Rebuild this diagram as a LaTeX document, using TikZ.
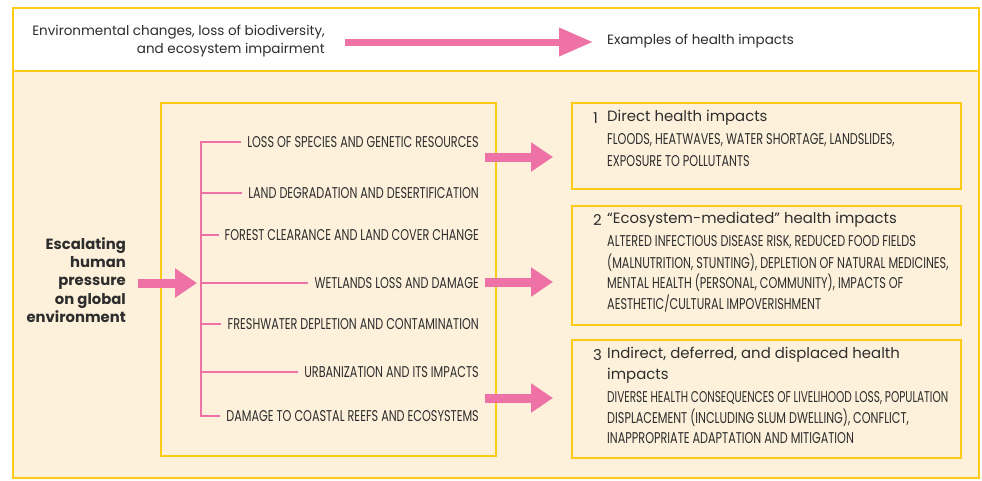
\documentclass[tikz,border=0pt]{standalone}
\usepackage{fontspec}
\usepackage{graphicx}
\setmainfont{Poppins}
\newfontfamily\condf[FakeStretch=0.72]{Poppins}
\usetikzlibrary{arrows.meta}
\definecolor{gold}{RGB}{254,203,20}
\definecolor{cream}{RGB}{253,241,219}
\definecolor{pinkc}{RGB}{238,114,166}
\definecolor{txt}{RGB}{45,45,45}
\tikzset{
  frame/.style={draw=gold, line width=2.4pt, rectangle, inner sep=0pt, anchor=north west},
  ibox/.style={draw=gold, line width=2pt, rectangle, inner sep=0pt, anchor=north west},
  caps/.style={font=\condf\fontsize{15.6}{18}\selectfont, text=txt, inner sep=0pt},
  head/.style={font=\fontsize{14.9}{17}\selectfont, text=txt, inner sep=0pt, anchor=west},
  uline/.style={caps, anchor=west},
  item/.style={caps, anchor=east},
  branch/.style={draw=pinkc, line width=2.2pt},
  fat/.style={draw=pinkc, line width=9pt, -{Triangle[length=22pt,width=28pt]}},
  thinfat/.style={draw=pinkc, line width=7pt, -{Triangle[length=34pt,width=27pt]}},
}
\begin{document}
\begin{tikzpicture}[x=1pt,y=-1pt]
\useasboundingbox (0,0) rectangle (982,480);
% frames
\node[frame, fill=cream, minimum width=966pt, minimum height=407pt] (low) at (12,70) {};
\node[frame, fill=white, minimum width=966pt, minimum height=63pt] (top) at (12,7) {};
% top row
\node[font=\fontsize{13.5}{18}\selectfont, text=txt, align=right, anchor=east, inner sep=0pt] (envt) at (325,41) {Environmental changes, loss of biodiversity,\\and ecosystem impairment};
\node[font=\fontsize{13.5}{15}\selectfont, text=txt, anchor=west, inner sep=0pt] (exam) at (607,41) {Examples of health impacts};
\coordinate (ta) at (345,42);
\coordinate (tb) at (593,42);
\draw[thinfat] (ta) -- (tb);
% middle box
\node[ibox, minimum width=335pt, minimum height=353pt] (mid) at (160,102) {};
% escalating
\node[font=\bfseries\fontsize{14.8}{18.3}\selectfont, text=txt, align=right, anchor=east, inner sep=0pt] (esc) at (126,280) {Escalating\\human\\pressure\\on global\\environment};
\coordinate (ea) at (138,283);
\coordinate (spine) at (197,283);
\draw[fat] (ea) -- (spine);
% items
\node[item] (i1) at (479,142) {LOSS OF SPECIES AND GENETIC RESOURCES};
\node[item] (i2) at (479,193) {LAND DEGRADATION AND DESERTIFICATION};
\node[item] (i3) at (479,235) {FOREST CLEARANCE AND LAND COVER CHANGE};
\node[item] (i4) at (479,283) {WETLANDS LOSS AND DAMAGE};
\node[item] (i5) at (479,324) {FRESHWATER DEPLETION AND CONTAMINATION};
\node[item] (i6) at (479,372) {URBANIZATION AND ITS IMPACTS};
\node[item] (i7) at (479,416) {DAMAGE TO COASTAL REEFS AND ECOSYSTEMS};
\coordinate (vt) at (201,142);
\coordinate (vb) at (201,416);
\draw[branch] ([xshift=-6pt]i1.west) -- (vt) -- (vb) -- ([xshift=-6pt]i7.west);
\foreach \n in {2,3,4,5,6}{
  \draw[branch] (vt |- i\n.west) -- ([xshift=-6pt]i\n.west);
}
% health boxes
\node[ibox, minimum width=389pt, minimum height=86pt] (b1) at (571,102) {};
\node[ibox, minimum width=389pt, minimum height=119pt] (b2) at (571,205) {};
\node[ibox, minimum width=389pt, minimum height=118pt] (b3) at (571,339) {};
\node[head] (h1n) at (593,118) {1};
\node[head] (h1) at (607,118) {Direct health impacts};
\node[uline] (b1a) at (607,140) {FLOODS, HEATWAVES, WATER SHORTAGE, LANDSLIDES,};
\node[uline] (b1b) at (607,161) {EXPOSURE TO POLLUTANTS};
\node[head] (h2n) at (593,220) {2};
\node[head] (h2) at (607,220) {“Ecosystem-mediated” health impacts};
\node[uline] (b2a) at (607,242) {ALTERED INFECTIOUS DISEASE RISK, REDUCED FOOD FIELDS};
\node[uline] (b2b) at (607,263) {(MALNUTRITION, STUNTING), DEPLETION OF NATURAL MEDICINES,};
\node[uline] (b2c) at (607,283) {MENTAL HEALTH (PERSONAL, COMMUNITY), IMPACTS OF};
\node[uline] (b2d) at (607,303) {AESTHETIC/CULTURAL IMPOVERISHMENT};
\node[head] (h3n) at (593,355) {3};
\node[head] (h3) at (607,355) {Indirect, deferred, and displaced health};
\node[head] (h3b) at (607,376) {impacts};
\node[uline] (b3a) at (607,398) {\scalebox{0.94}[1]{DIVERSE HEALTH CONSEQUENCES OF LIVELIHOOD LOSS, POPULATION}};
\node[uline] (b3b) at (607,418) {DISPLACEMENT (INCLUDING SLUM DWELLING), CONFLICT,};
\node[uline] (b3c) at (607,438) {INAPPROPRIATE ADAPTATION AND MITIGATION};
% arrows to boxes
\coordinate (a1) at (485,157);
\coordinate (a2) at (485,282);
\coordinate (a3) at (485,398);
\draw[fat] (a1) -- ([xshift=-18pt]b1.west |- a1);
\draw[fat] (a2) -- ([xshift=-18pt]b2.west |- a2);
\draw[fat] (a3) -- ([xshift=-18pt]b3.west |- a3);
\end{tikzpicture}
\end{document}
